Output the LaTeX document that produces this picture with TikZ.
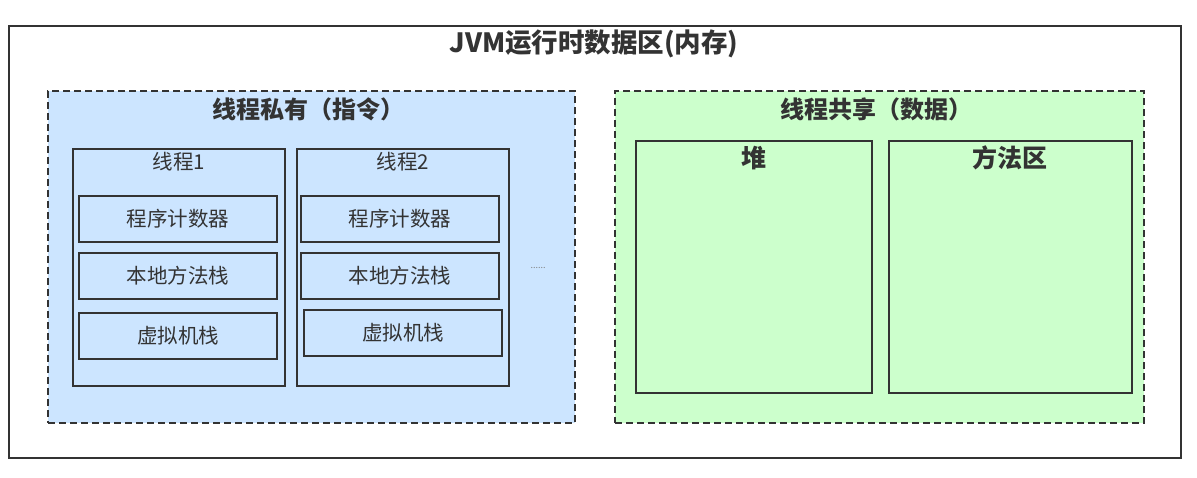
\documentclass[tikz,border=0pt]{standalone}
\usepackage{fontspec}
\setmainfont{Noto Sans CJK SC}
\begin{document}
\begin{tikzpicture}[x=1pt,y=-1pt,
  every node/.style={text=txt},
  frame/.style={draw=linec, line width=1.4pt, inner sep=0pt, outer sep=0pt, anchor=north west},
  zone/.style={draw=linec, line width=1.6pt, dash pattern=on 7pt off 4pt, inner sep=0pt, outer sep=0pt, anchor=north west},
  cell/.style={draw=linec, line width=1.8pt, inner sep=0pt, outer sep=0pt, anchor=north west},
  bigtitle/.style={font=\fontsize{26.5}{30}\selectfont\bfseries},
  zonetitle/.style={font=\fontsize{24}{28}\selectfont\bfseries},
  celltitle/.style={font=\fontsize{25}{29}\selectfont\bfseries},
  celltext/.style={font=\fontsize{20.5}{24}\selectfont},
]
\definecolor{linec}{HTML}{333333}
\definecolor{txt}{HTML}{333333}
\definecolor{bluef}{HTML}{CCE5FF}
\definecolor{greenf}{HTML}{CCFFCC}
\useasboundingbox (0,0) rectangle (1197,478);
\fill[white] (0,0) rectangle (1197,478);

% outer
\node[frame, minimum width=1172pt, minimum height=432pt] (outer) at (9,26) {};
\node[bigtitle] (outert) at (594,44) {JVM运行时数据区(内存)};

% private zone
\node[zone, fill=bluef, minimum width=527pt, minimum height=332pt] (priv) at (48,91) {};
\node[zonetitle] (privt) at (308,109) {线程私有（指令）};

% thread 1
\node[cell, minimum width=212pt, minimum height=237pt] (t1) at (73,149) {};
\node[celltext] (t1t) at (179,162) {线程1};
\node[cell, minimum width=198pt, minimum height=46pt] (t1a) at (79,196) {};
\node[celltext] at (t1a.center) {程序计数器};
\node[cell, minimum width=198pt, minimum height=46pt] (t1b) at (79,253) {};
\node[celltext] at (t1b.center) {本地方法栈};
\node[cell, minimum width=198pt, minimum height=46pt] (t1c) at (79,313) {};
\node[celltext] at (t1c.center) {虚拟机栈};

% thread 2
\node[cell, minimum width=212pt, minimum height=237pt] (t2) at (297,149) {};
\node[celltext] (t2t) at (403,162) {线程2};
\node[cell, minimum width=198pt, minimum height=46pt] (t2a) at (301,196) {};
\node[celltext] at (t2a.center) {程序计数器};
\node[cell, minimum width=198pt, minimum height=46pt] (t2b) at (301,253) {};
\node[celltext] at (t2b.center) {本地方法栈};
\node[cell, minimum width=198pt, minimum height=46pt] (t2c) at (304,310) {};
\node[celltext] at (t2c.center) {虚拟机栈};

\node[font=\fontsize{9}{10}\selectfont, text=gray] (dots) at (538,268) {......};

% shared zone
\node[zone, fill=greenf, minimum width=529pt, minimum height=332pt] (shared) at (615,91) {};
\node[zonetitle] (sharedt) at (876,109) {线程共享（数据）};
\node[cell, line width=1.4pt, minimum width=236pt, minimum height=252pt] (heap) at (636,141) {};
\node[celltitle] (heapt) at (754,158) {堆};
\node[cell, line width=1.4pt, minimum width=243pt, minimum height=252pt] (meth) at (889,141) {};
\node[celltitle] (metht) at (1010,158) {方法区};
\end{tikzpicture}
\end{document}
